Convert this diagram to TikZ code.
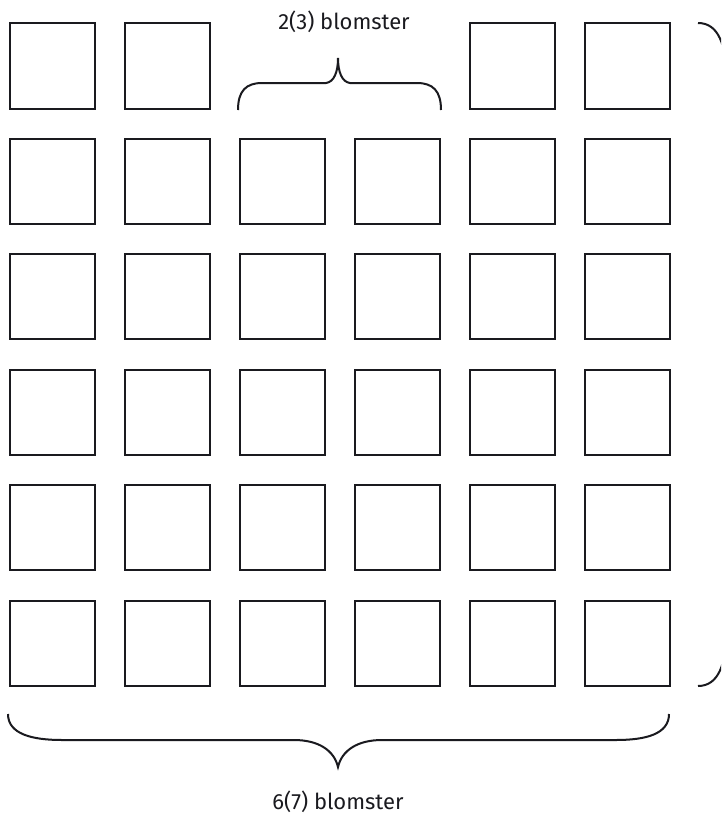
\documentclass[tikz,border=0pt]{standalone}
\usepackage{fontspec}
\setmainfont{Fira Sans}
\definecolor{ink}{HTML}{1A1A1F}
\begin{document}
\begin{tikzpicture}[x=1pt,y=1pt,
  sq/.style={draw=ink,line width=2pt,minimum size=85pt,inner sep=0pt,fill=white},
  brace/.style={draw=ink,line width=2pt},
  lbl/.style={anchor=base,inner sep=0pt,text=ink,font=\fontsize{22}{25}\selectfont}]
\useasboundingbox[fill=white] (0,0) rectangle (721,-816);
\clip (0,0) rectangle (721,-816);
% grid of squares
\foreach \r in {1,...,6}{
  \foreach \c in {1,...,6}{
    \pgfmathsetmacro{\show}{(\r==1 && (\c==3 || \c==4)) ? 0 : 1}
    \ifnum\show=1
      \node[sq] (s-\r-\c) at ({52.5+115*(\c-1)},{-66-115.4*(\r-1)}) {};
    \fi
  }
}
% top brace
\draw[brace] (238,-110) .. controls (238,-91) and (246,-83) .. (262,-83) -- (326,-83)
  .. controls (334,-82) and (338,-72) .. (338,-58)
  .. controls (338,-72) and (342,-82) .. (350,-83) -- (417,-83)
  .. controls (433,-83) and (441,-91) .. (441,-110);
\node[lbl] (top) at (344,-30) {2(3) blomster};
% bottom brace
\draw[brace] (8,-714) .. controls (8,-734) and (32,-740) .. (62,-740) -- (294,-740)
  .. controls (318,-740) and (334,-750) .. (338,-767)
  .. controls (342,-750) and (358,-740) .. (382,-740) -- (616,-740)
  .. controls (646,-740) and (669,-734) .. (669,-714);
\node[lbl] (bottom) at (338,-809) {6(7) blomster};
% right brace (cut off by the edge)
\draw[brace] (698,-23) .. controls (719,-23) and (726,-46) .. (726,-76) -- (726,-633)
  .. controls (726,-663) and (719,-686) .. (698,-686);
\end{tikzpicture}
\end{document}
